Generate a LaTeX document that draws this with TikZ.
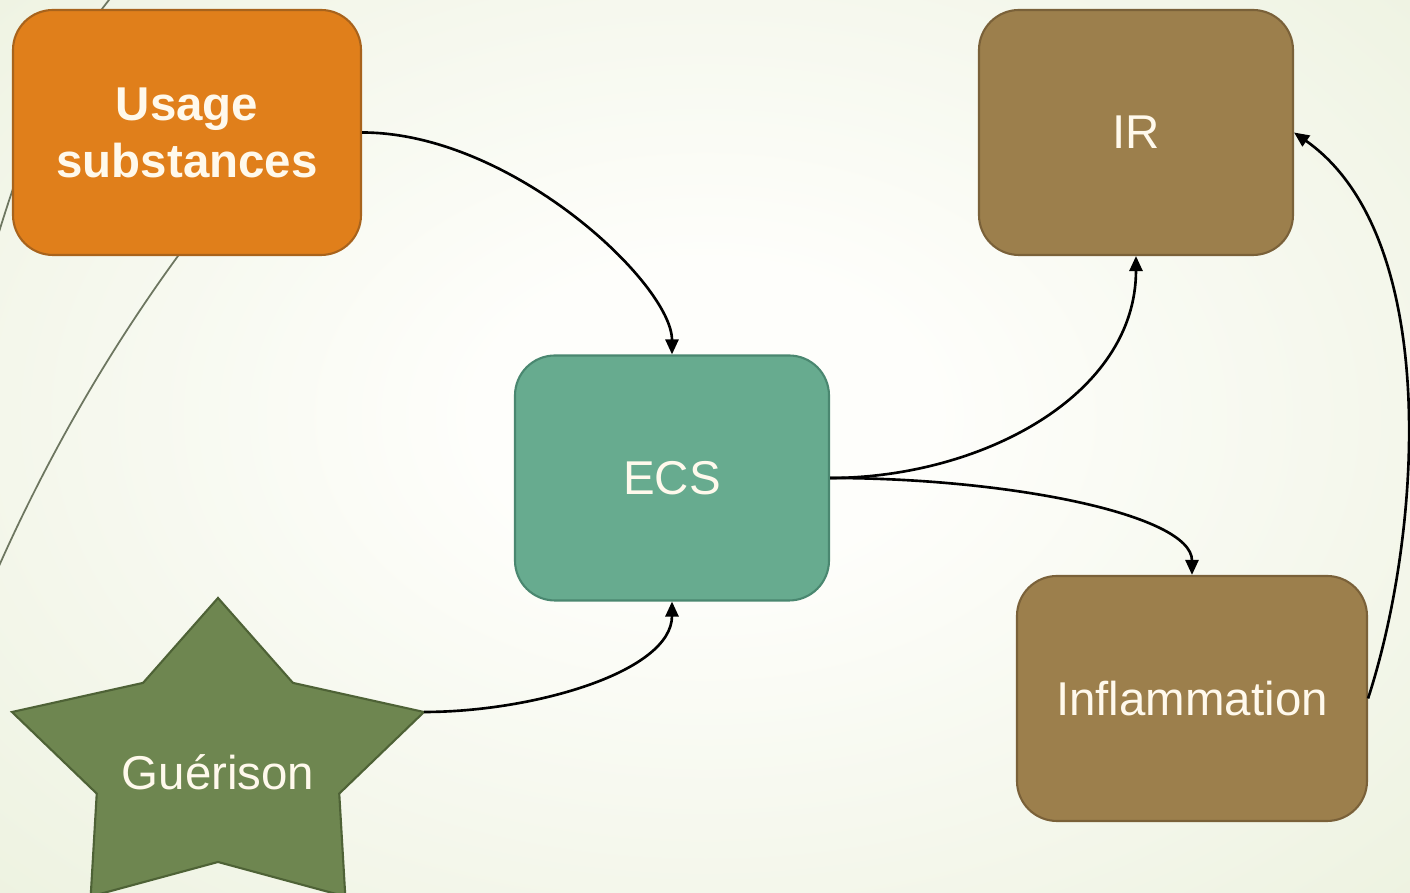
\documentclass[tikz,border=0pt]{standalone}
\usepackage{fontspec}
\setmainfont{Liberation Sans}
\usepackage{tikz}
\usetikzlibrary{arrows.meta}

\definecolor{bgcentre}{HTML}{FEFEFB}
\definecolor{bgedge}{HTML}{E5ECD3}
\definecolor{usagefill}{HTML}{E07F1B}
\definecolor{usageline}{HTML}{A8631C}
\definecolor{brownfill}{HTML}{9C7F4C}
\definecolor{brownline}{HTML}{7A6139}
\definecolor{ecsfill}{HTML}{67AB8F}
\definecolor{ecsline}{HTML}{4A8770}
\definecolor{starfill}{HTML}{6E8650}
\definecolor{starline}{HTML}{4E6236}
\definecolor{wisp}{HTML}{6D7660}
\definecolor{labeltext}{HTML}{FFF9EC}

\pgfdeclareradialshading{bgglow}{\pgfpoint{0bp}{0bp}}{color(0bp)=(bgcentre); color(8bp)=(bgcentre); color(50bp)=(bgedge); color(72bp)=(bgedge)}

\begin{document}
\begin{tikzpicture}[>={Triangle[length=1.5mm,width=1.3mm]},
    box/.style = {draw, rounded corners=0.4cm, line width=0.6pt, minimum height=2.45cm,
                  text=labeltext, align=center, font=\fontsize{13.5}{16.2}\selectfont},
    usagebox/.style = {box, fill=usagefill, draw=usageline, minimum width=3.48cm,
                  font=\fontsize{13.5}{16.2}\selectfont\bfseries},
    brownbox/.style = {box, fill=brownfill, draw=brownline},
    ecsbox/.style = {box, fill=ecsfill, draw=ecsline, minimum width=3.14cm},
    starshape/.style = {fill=starfill, draw=starline, line width=0.6pt},
    wispline/.style = {draw=wisp, line width=0.5pt},
    link/.style = {->, line width=0.75pt, black}]
    \useasboundingbox (0,0) rectangle (14.1,-8.93);
    \clip (0,0) rectangle (14.1,-8.93);
    \shade[shading=bgglow] (0,0.6) rectangle (14.1,-8.93);
    % background wisps
    \draw[wispline] (2.05,-2.2) .. controls (1.2,-3.3) and (0.5,-4.5) .. (-0.05,-5.75);
    \draw[wispline] (1.13,0.05) .. controls (0.6,-0.6) and (0.3,-1.3) .. (-0.05,-2.45);
    \node[usagebox] (usage) at (1.87,-1.325) {Usage\\substances};
    \node[brownbox, minimum width=3.14cm] (ir) at (11.36,-1.325) {IR};
    \node[ecsbox] (ecs) at (6.72,-4.78) {ECS};
    \node[brownbox, minimum width=3.5cm] (infl) at (11.92,-6.985) {Inflammation};
    % star
    \draw[starshape, shift={(2.18,-7.63)}] (90:2.166 and 1.65) -- (126:1.275 and 0.99)
        -- (162:2.166 and 1.65) -- (198:1.275 and 0.99) -- (234:2.166 and 1.65)
        -- (270:1.275 and 0.99) -- (306:2.166 and 1.65) -- (342:1.275 and 0.99)
        -- (18:2.166 and 1.65) -- (54:1.275 and 0.99) -- cycle;
    \node[text=labeltext, font=\fontsize{13.5}{16.2}\selectfont] (guer) at (2.18,-7.72) {Guérison};
    \coordinate (guertip) at (4.24,-7.12);
    \draw[link] (usage.east) .. controls +(1.5,0) and +(0,0.7) .. (ecs.north);
    \draw[link] (guertip) .. controls +(1.1,0) and +(0,-0.7) .. (ecs.south);
    \draw[link] (ecs.east) .. controls +(1.5,0) and +(0,-1.4) .. (ir.south);
    \draw[link] (ecs.east) .. controls +(1.8,0) and +(0,0.6) .. (infl.north);
    \draw[link] (infl.east) to[out=72, in=-35, looseness=0.8] (ir.east);
\end{tikzpicture}
\end{document}
